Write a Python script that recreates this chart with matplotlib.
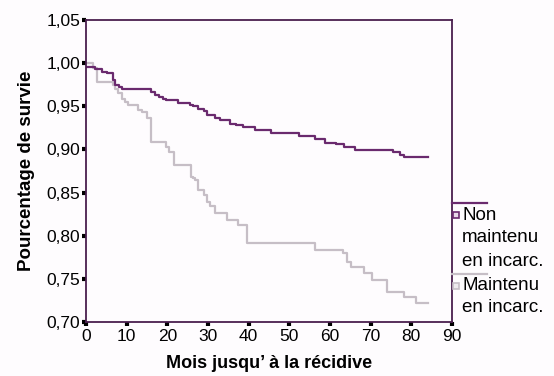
import matplotlib
matplotlib.use("Agg")
import matplotlib.pyplot as plt
from matplotlib.lines import Line2D

# ------------------------------------------------------------------------------------------
# Kaplan-Meier style curves (months, survival)
months_non = [0, 2.2, 3.9, 5.1, 6.7, 7.2, 8.0, 8.8, 16.1, 17.0, 18.0, 19.0, 19.6, 22.7, 25.6, 26.4,
              27.6, 28.9, 29.7, 31.7, 33.0, 35.4, 37.0, 38.6, 41.5, 45.5, 52.4, 56.3, 58.7, 61.4,
              63.4, 66.1, 75.4, 77.2, 78.2, 84.2]
surv_non = [0.996, 0.993, 0.990, 0.988, 0.980, 0.975, 0.972, 0.970, 0.966, 0.963, 0.961, 0.959,
            0.957, 0.954, 0.951, 0.950, 0.947, 0.944, 0.940, 0.936, 0.934, 0.930, 0.928, 0.926,
            0.923, 0.919, 0.915, 0.912, 0.908, 0.906, 0.903, 0.899, 0.897, 0.894, 0.891, 0.891]

months_maint = [0, 1.6, 2.6, 6.7, 7.1, 7.9, 8.8, 9.6, 10.4, 12.9, 13.7, 14.9, 15.9, 19.7, 20.5,
                21.6, 25.7, 26.4, 26.9, 27.6, 28.9, 29.7, 30.5, 31.7, 34.6, 37.4, 39.5, 56.3,
                63.3, 64.2, 65.1, 68.4, 70.3, 74.0, 78.2, 81.1, 84.2]
surv_maint = [1.000, 0.994, 0.978, 0.975, 0.970, 0.965, 0.959, 0.955, 0.951, 0.946, 0.943, 0.936,
              0.909, 0.903, 0.897, 0.882, 0.868, 0.867, 0.864, 0.853, 0.847, 0.839, 0.834, 0.826,
              0.818, 0.812, 0.792, 0.783, 0.780, 0.770, 0.764, 0.757, 0.749, 0.735, 0.729, 0.722,
              0.722]

x_ticks = [0, 10, 20, 30, 40, 50, 60, 70, 80, 90]
y_ticks = [0.70, 0.75, 0.80, 0.85, 0.90, 0.95, 1.00, 1.05]

col_non = "#6a2a6e"
col_maint = "#c6bec6"
col_axis = "#4a1f4e"

# ------------------------------------------------------------------------------------------
plt.rcParams["font.family"] = ["Liberation Sans", "DejaVu Sans"]

fig = plt.figure(figsize=(5.54, 3.76), dpi=100, facecolor="#fefcfe")
W, H = 554.0, 376.0
ax = fig.add_axes([86 / W, 1 - 322 / H, (452 - 86) / W, (322 - 20) / H])
ax.set_facecolor("#fefcfe")

ax.step(months_maint, surv_maint, where="post", color=col_maint, lw=1.6)
ax.step(months_non, surv_non, where="post", color=col_non, lw=1.6)

ax.set_xlim(0, 90)
ax.set_ylim(0.70, 1.05)
ax.set_xticks(x_ticks)
ax.set_yticks(y_ticks)
ax.set_xticklabels([str(v) for v in x_ticks])
ax.set_yticklabels(["{:.2f}".format(v).replace(".", ",") for v in y_ticks])

for sp in ax.spines.values():
    sp.set_color(col_axis)
    sp.set_linewidth(1.3)

ax.tick_params(direction="out", length=3, width=3, color="black", labelsize=12.5, pad=1)
ax.tick_params(axis="x", pad=2)

ax.set_xlabel("Mois jusqu\u2019 à la récidive", fontsize=13, fontweight="bold", labelpad=8)
ax.set_ylabel("Pourcentage de survie", fontsize=13.5, fontweight="bold", labelpad=8)

# ------------------------------------------------------------------------------------------
# legend outside on the right, drawn by hand
fig.add_artist(Line2D([452 / W, 487 / W], [1 - 203 / H, 1 - 203 / H], color=col_non, lw=1.6))
fig.add_artist(Line2D([456 / W], [1 - 215 / H], marker="s", ms=4, mfc="#e8d8e8", mec=col_non, mew=1.2))
fig.text(462 / W, 1 - 215 / H, "Non", fontsize=13.5, va="center", ha="left")
fig.text(462 / W, 1 - 238 / H, "maintenu", fontsize=13.5, va="center", ha="left")
fig.text(462 / W, 1 - 261 / H, "en incarc.", fontsize=13.5, va="center", ha="left")

fig.add_artist(Line2D([452 / W, 487 / W], [1 - 274 / H, 1 - 274 / H], color=col_maint, lw=1.6))
fig.add_artist(Line2D([456 / W], [1 - 286 / H], marker="s", ms=4, mfc="#eeeaee", mec=col_maint, mew=1.2))
fig.text(462 / W, 1 - 286 / H, "Maintenu", fontsize=13.5, va="center", ha="left")
fig.text(462 / W, 1 - 308 / H, "en incarc.", fontsize=13.5, va="center", ha="left")

plt.savefig("out.png", dpi=100, facecolor=fig.get_facecolor())
